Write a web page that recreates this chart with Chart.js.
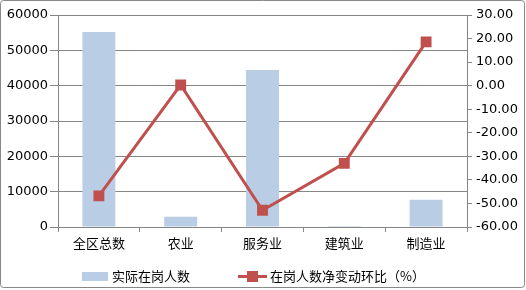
<!DOCTYPE html>
<html><head><meta charset="utf-8">
<script src="https://cdn.jsdelivr.net/npm/chart.js@4/dist/chart.umd.min.js"></script>
<style>html,body{margin:0;padding:0;background:#fff;}#wrap{width:526px;height:290px;position:relative;}</style>
</head><body><div id="wrap"><canvas id="c" width="526" height="290"></canvas></div>
<script>
const categories = ['全区总数','农业','服务业','建筑业','制造业'];
const employees = [55200, 2900, 44400, 250, 7700];
const changePct = [-46.8, 0.3, -52.9, -33.0, 18.6];
const leftTicks = [0,10000,20000,30000,40000,50000,60000];
const rightTicks = [-60,-50,-40,-30,-20,-10,0,10,20,30];
const barLabel = '实际在岗人数';
const lineLabel = '在岗人数净变动环比（%）';

const GRID = '#868686';
const BAR = '#B9CDE5';
const LINE = '#C0504D';
const NUMFONT = {family: 'DejaVu Sans', size: 13};
const CJKFONT = {family: '"Noto Sans CJK SC"', size: 13};

const frame = {
  id: 'frame',
  beforeDraw(chart) {
    const ctx = chart.ctx;
    ctx.save();
    ctx.fillStyle = '#fff';
    ctx.fillRect(0,0,chart.width,chart.height);
    ctx.strokeStyle = '#878787';
    ctx.lineWidth = 1;
    ctx.beginPath();
    ctx.roundRect(0.5,0.5,524,287,3);
    ctx.stroke();
    ctx.restore();
  },
  afterDraw(chart) {
    const ctx = chart.ctx;
    ctx.save();
    const cy = 276.5;
    ctx.fillStyle = BAR;
    ctx.fillRect(82, cy-4.5, 26, 9);
    ctx.fillStyle = '#000';
    ctx.font = '13px "Noto Sans CJK SC"';
    ctx.textBaseline = 'middle';
    ctx.fillText(barLabel, 112, cy);
    ctx.strokeStyle = LINE;
    ctx.lineWidth = 3;
    ctx.beginPath();
    ctx.moveTo(238, cy); ctx.lineTo(267, cy);
    ctx.stroke();
    ctx.fillStyle = LINE;
    ctx.fillRect(247, cy-5.5, 11, 11);
    ctx.fillStyle = '#000';
    ctx.fillText(lineLabel, 270, cy);
    ctx.restore();
  }
};

new Chart(document.getElementById('c'), {
  data: {
    labels: categories,
    datasets: [
      {type:'line', label: lineLabel, data: changePct, yAxisID:'y1', order:0,
       borderColor: LINE, borderWidth: 3, backgroundColor: LINE,
       pointStyle:'rect', pointRadius: 7.7, pointBackgroundColor: LINE, pointBorderColor: LINE,
       pointBorderWidth: 0, tension: 0},
      {type:'bar', label: barLabel, data: employees, yAxisID:'y', order:1,
       backgroundColor: BAR, borderWidth: 0, barPercentage: 0.403, categoryPercentage: 1}
    ]
  },
  options: {
    responsive:false, animation:false,
    layout:{padding:{top:15,left:0,right:0,bottom:0}},
    plugins:{legend:{display:false}, tooltip:{enabled:false}},
    scales:{
      x:{
        offset:true,
        grid:{offset:true, drawOnChartArea:false, color:GRID, tickLength:5},
        border:{color:GRID, width:1},
        ticks:{font:CJKFONT, color:'#000', padding:3, maxRotation:0},
        afterFit(s){ s.height = 63; }
      },
      y:{
        position:'left', min:0, max:60000,
        afterBuildTicks(s){ s.ticks = leftTicks.map(v=>({value:v})); },
        grid:{color:GRID, tickLength:8},
        border:{color:GRID, width:1},
        ticks:{font:NUMFONT, color:'#000', padding:2, callback:v=>String(v)},
        afterFit(s){ s.width = 58; }
      },
      y1:{
        position:'right', min:-60, max:30,
        afterBuildTicks(s){ s.ticks = rightTicks.map(v=>({value:v})); },
        grid:{drawOnChartArea:false, color:GRID, tickLength:5},
        border:{color:GRID, width:1},
        ticks:{font:NUMFONT, color:'#000', padding:4, callback:v=>Number(v).toFixed(2)},
        afterFit(s){ s.width = 59; }
      }
    }
  },
  plugins:[frame]
});
</script></body></html>
